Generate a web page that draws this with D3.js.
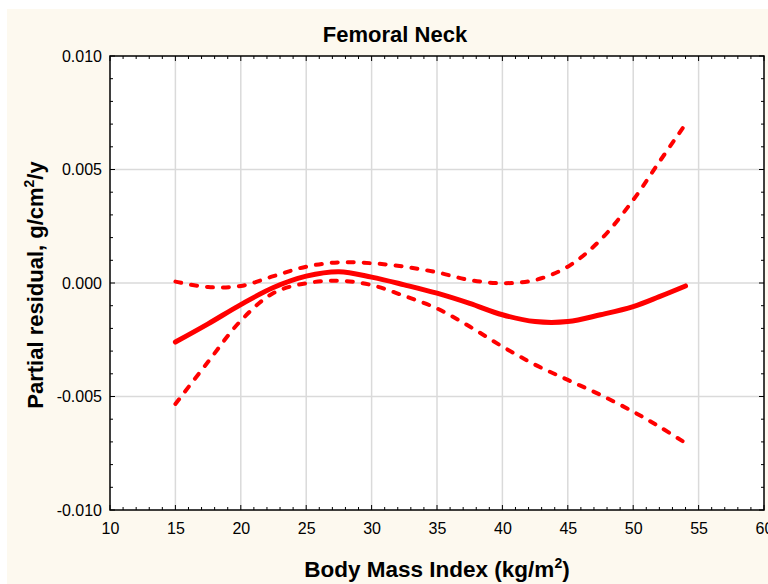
<!DOCTYPE html>
<html><head><meta charset="utf-8">
<script src="https://cdn.jsdelivr.net/npm/d3@7"></script>
<style>body{margin:0;background:#fff;} svg{display:block;}</style>
</head><body>
<script>
const bmi      = [15, 17.5, 20, 22.5, 25, 27.5, 30, 32.5, 35, 37.5, 40, 42.5, 45, 47.5, 50, 52, 54];
const estimate = [-0.0026, -0.0018, -0.00095, -0.0002, 0.0003, 0.0005, 0.00026, -0.00008, -0.00045, -0.0009, -0.0014, -0.0017, -0.0017, -0.0014, -0.00104, -0.0006, -0.00013];
const upperCI  = [0.00006, -0.00018, -0.00013, 0.0003, 0.00072, 0.00091, 0.00087, 0.00072, 0.00047, 0.00013, -0.00001, 0.00013, 0.00072, 0.0019, 0.00366, 0.00534, 0.0070];
const lowerCI  = [-0.00533, -0.00347, -0.00166, -0.00044, -0.00001, 0.0001, -0.00009, -0.00057, -0.00112, -0.00192, -0.0028, -0.0036, -0.00427, -0.00493, -0.00567, -0.00633, -0.00705];
const xTicks = [10, 15, 20, 25, 30, 35, 40, 45, 50, 55, 60];
const yTicks = [-0.010, -0.005, 0.000, 0.005, 0.010];

const W = 768, H = 584;
const L = 110, R = 764, T = 56, B = 510;
const ff = "Liberation Sans, Arial, sans-serif";
const svg = d3.select("body").append("svg").attr("width", W).attr("height", H);
svg.append("rect").attr("x", 7).attr("y", 9).attr("width", W - 7).attr("height", H - 9).attr("fill", "#fdf9ef");
svg.append("rect").attr("x", L).attr("y", T).attr("width", R - L).attr("height", B - T).attr("fill", "#fff");

const x = d3.scaleLinear().domain([10, 60]).range([L, R]);
const y = d3.scaleLinear().domain([-0.010, 0.010]).range([B, T]);

// grid
svg.append("g").selectAll("line").data(xTicks.slice(1, -1)).join("line")
  .attr("x1", d => x(d)).attr("x2", d => x(d)).attr("y1", T).attr("y2", B)
  .attr("stroke", "#dadada").attr("stroke-width", 1.5);
svg.append("g").selectAll("line").data(yTicks.slice(1, -1)).join("line")
  .attr("y1", d => y(d)).attr("y2", d => y(d)).attr("x1", L).attr("x2", R)
  .attr("stroke", "#dadada").attr("stroke-width", 1.5);

// minor ticks inward
const xMinor = d3.range(10, 60.01, 1);
const yMinor = d3.range(-0.010, 0.01001, 0.001);
const tk = svg.append("g").attr("stroke", "#000").attr("stroke-width", 1);
xMinor.forEach(v => {
  const len = (Math.round(v) % 5 === 0) ? 5 : 3;
  tk.append("line").attr("x1", x(v)).attr("x2", x(v)).attr("y1", B).attr("y2", B - len);
  tk.append("line").attr("x1", x(v)).attr("x2", x(v)).attr("y1", T).attr("y2", T + len);
});
yMinor.forEach((v, i) => {
  const len = (i % 5 === 0) ? 5 : 3;
  tk.append("line").attr("y1", y(v)).attr("y2", y(v)).attr("x1", L).attr("x2", L + len);
  tk.append("line").attr("y1", y(v)).attr("y2", y(v)).attr("x1", R).attr("x2", R - len);
});

// axes labels via d3 axes
const xAxis = svg.append("g").attr("transform", `translate(0,${B})`)
  .call(d3.axisBottom(x).tickValues(xTicks).tickSize(0).tickPadding(13).tickFormat(d3.format("d")));
xAxis.select(".domain").remove();
xAxis.selectAll("text").attr("font-family", ff).attr("font-size", 16).attr("fill", "#000");
const yAxis = svg.append("g").attr("transform", `translate(${L},0)`)
  .call(d3.axisLeft(y).tickValues(yTicks).tickSize(0).tickPadding(8).tickFormat(d3.format(".3f")));
yAxis.select(".domain").remove();
yAxis.selectAll("text").attr("font-family", ff).attr("font-size", 16).attr("fill", "#000")
  .text(d => d3.format(".3f")(d).replace("−", "-"));

// frame
svg.append("rect").attr("x", L).attr("y", T).attr("width", R - L).attr("height", B - T)
  .attr("fill", "none").attr("stroke", "#000").attr("stroke-width", 1.5);

// lines
const line = d3.line().curve(d3.curveCatmullRom.alpha(0.5)).x(d => x(d[0])).y(d => y(d[1]));
const plot = svg.append("g");
plot.append("path").datum(bmi.map((b, i) => [b, upperCI[i]])).attr("d", line)
  .attr("fill", "none").attr("stroke", "#ff0000").attr("stroke-width", 4).attr("stroke-dasharray", "6,10").attr("stroke-linecap", "round");
plot.append("path").datum(bmi.map((b, i) => [b, lowerCI[i]])).attr("d", line)
  .attr("fill", "none").attr("stroke", "#ff0000").attr("stroke-width", 4).attr("stroke-dasharray", "6,10").attr("stroke-linecap", "round");
plot.append("path").datum(bmi.map((b, i) => [b, estimate[i]])).attr("d", line)
  .attr("fill", "none").attr("stroke", "#ff0000").attr("stroke-width", 5).attr("stroke-linecap", "round");

// titles
svg.append("text").attr("x", 395).attr("y", 42).attr("text-anchor", "middle")
  .attr("font-family", ff).attr("font-weight", "bold").attr("font-size", 22).text("Femoral Neck");
const xt = svg.append("text").attr("x", 437).attr("y", 577).attr("text-anchor", "middle")
  .attr("font-family", ff).attr("font-weight", "bold").attr("font-size", 22.5);
xt.append("tspan").text("Body Mass Index (kg/m");
xt.append("tspan").attr("font-size", 14).attr("dy", -9).text("2");
xt.append("tspan").attr("dy", 9).text(")");
const yt = svg.append("text").attr("transform", "translate(43,285) rotate(-90)").attr("text-anchor", "middle")
  .attr("font-family", ff).attr("font-weight", "bold").attr("font-size", 22);
yt.append("tspan").text("Partial residual, g/cm");
yt.append("tspan").attr("font-size", 14).attr("dy", -9).text("2");
yt.append("tspan").attr("dy", 9).text("/y");
</script>
</body></html>
